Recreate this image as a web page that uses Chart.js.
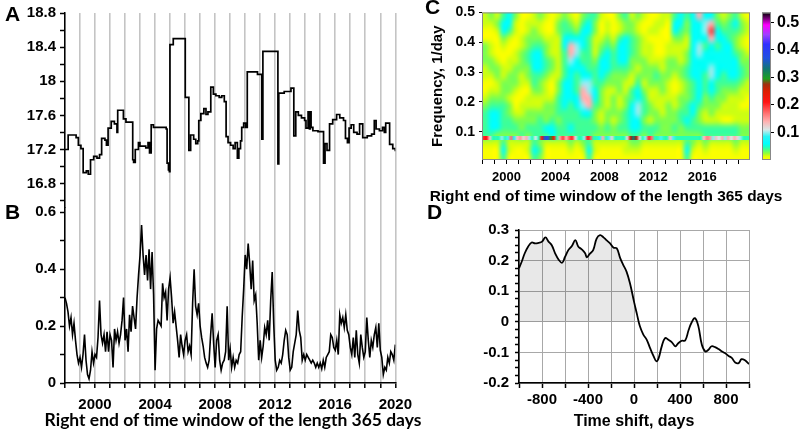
<!DOCTYPE html>
<html>
<head>
<meta charset="utf-8">
<script src="https://cdn.jsdelivr.net/npm/chart.js@4.4.1/dist/chart.umd.min.js"></script>
<style>
  body { margin: 0; background: #fff; width: 803px; height: 439px; position: relative; overflow: hidden; }
  canvas { position: absolute; }
  .panel { position: absolute; font: bold 21px "Liberation Sans", Arial, sans-serif; line-height: 21px; }
  .title { position: absolute; white-space: nowrap; font-weight: bold; line-height: 1; }
</style>
</head>
<body>
<canvas id="ab" width="420" height="439" style="left:0;top:0"></canvas>
<canvas id="spec" width="383" height="210" style="left:420px;top:0"></canvas>
<canvas id="cbar" width="51" height="175" style="left:752px;top:0"></canvas>
<canvas id="ccf" width="383" height="239" style="left:420px;top:200px"></canvas>
<div class="panel" style="left:5px;top:3px">A</div>
<div class="panel" style="left:5px;top:201px">B</div>
<div class="panel" style="left:425px;top:-4px">C</div>
<div class="panel" style="left:427px;top:201px">D</div>
<div class="title" id="abTitle" style="font-family:Lato">Right end of time window of the length 365 days</div>
<div class="title" id="cTitle" style="font-family:'Liberation Sans',Arial">Right end of time window of the length 365 days</div>
<script>
// panel A: step series, level starts at each year value
const aYears = [1998.00,1998.21,1998.74,1998.89,1999.06,1999.21,1999.42,1999.55,1999.70,1999.91,
  2000.13,2000.30,2000.44,2000.66,2000.76,2000.87,2001.08,2001.29,2001.46,2001.51,
  2001.89,2002.06,2002.51,2002.57,2002.68,2002.89,2002.99,2003.38,2003.53,2003.63,
  2003.74,2003.89,2004.74,2004.80,2004.89,2004.95,2004.99,2005.21,2006.01,2006.25,
  2006.37,2006.57,2006.71,2006.84,2006.91,2007.05,2007.25,2007.39,2007.52,2007.71,
  2007.88,2008.05,2008.27,2008.44,2008.61,2008.73,2008.86,2009.03,2009.20,2009.33,
  2009.48,2009.58,2009.69,2009.77,2009.90,2010.03,2010.14,2010.82,2011.11,2011.18,
  2012.18,2012.24,2012.60,2013.05,2013.24,2013.37,2013.54,2013.75,2013.96,2014.05,
  2014.19,2014.28,2014.34,2014.39,2014.51,2014.85,2015.22,2015.32,2015.45,2015.62,
  2015.83,2016.09,2016.30,2016.55,2016.68,2016.81,2016.92,2017.06,2017.23,2017.45,
  2017.62,2017.83,2018.13,2018.42,2018.60,2018.72,2018.94,2019.15,2019.27,2019.36,
  2019.62,2019.83,2020.00];
const aValues = [17.20,17.37,17.34,17.25,17.21,16.93,16.95,16.91,17.08,17.12,
  17.10,17.14,17.33,17.31,17.25,17.45,17.53,17.50,17.40,17.66,
  17.56,17.52,17.08,17.05,17.20,17.28,17.24,17.22,17.28,17.16,
  17.49,17.46,17.44,17.04,16.96,16.94,18.43,18.50,17.81,17.19,
  17.37,17.32,17.27,17.30,17.54,17.62,17.68,17.61,17.64,17.93,
  17.85,17.83,17.81,17.83,17.76,17.35,17.28,17.25,17.21,17.28,
  17.10,17.21,17.30,17.46,17.51,17.46,18.11,18.08,17.32,18.35,
  17.03,17.86,17.88,17.92,17.36,17.64,17.60,17.57,17.54,17.45,
  17.64,17.44,17.64,17.46,17.42,17.41,17.04,17.27,17.19,17.50,
  17.55,17.61,17.57,17.54,17.33,17.28,17.45,17.49,17.40,17.38,
  17.50,17.34,17.36,17.38,17.54,17.44,17.42,17.46,17.40,17.51,
  17.26,17.21,17.18];

// panel B: sampled every 0.1 year from 1998.0
const bStart = 1998, bStep = 0.1;
const bValues = [
  0.30,0.28,0.25,0.20,0.23,0.17,0.21,0.15,0.10,0.07,
  0.09,0.055,0.10,0.17,0.08,0.03,0.015,0.045,0.11,0.07,
  0.10,0.09,0.16,0.29,0.17,0.14,0.17,0.11,0.18,0.11,
  0.17,0.15,0.055,0.19,0.15,0.18,0.14,0.17,0.22,0.30,
  0.15,0.19,0.11,0.24,0.18,0.27,0.23,0.19,0.30,0.38,
  0.45,0.555,0.45,0.38,0.45,0.36,0.47,0.33,0.46,0.31,
  0.045,0.19,0.22,0.21,0.20,0.35,0.30,0.32,0.22,0.33,
  0.37,0.30,0.21,0.25,0.20,0.15,0.09,0.17,0.13,0.10,
  0.15,0.17,0.11,0.13,0.10,0.28,0.40,0.27,0.24,0.28,
  0.20,0.16,0.13,0.09,0.07,0.055,0.08,0.17,0.245,0.14,
  0.055,0.15,0.17,0.08,0.045,0.07,0.08,0.11,0.27,0.08,
  0.12,0.055,0.09,0.055,0.08,0.07,0.10,0.11,0.23,0.33,
  0.45,0.40,0.49,0.42,0.33,0.43,0.29,0.31,0.21,0.08,
  0.15,0.09,0.13,0.195,0.17,0.22,0.15,0.29,0.39,0.21,
  0.08,0.045,0.055,0.08,0.07,0.10,0.15,0.185,0.17,0.09,
  0.045,0.055,0.11,0.14,0.17,0.255,0.185,0.16,0.08,0.10,
  0.08,0.10,0.09,0.08,0.07,0.08,0.07,0.055,0.07,0.055,
  0.07,0.05,0.08,0.055,0.09,0.10,0.11,0.17,0.16,0.125,
  0.115,0.15,0.10,0.24,0.21,0.23,0.195,0.24,0.185,0.17,
  0.125,0.10,0.16,0.09,0.185,0.10,0.07,0.17,0.125,0.09,
  0.11,0.23,0.15,0.09,0.15,0.125,0.17,0.195,0.125,0.21,
  0.115,0.09,0.03,0.055,0.045,0.09,0.07,0.11,0.10,0.08,
  0.135];

const yearTicks = [1998,1999,2000,2001,2002,2003,2004,2005,2006,2007,2008,2009,2010,
  2011,2012,2013,2014,2015,2016,2017,2018,2019,2020];
const yearLabels = [2000,2004,2008,2012,2016,2020];
const aTicks = [16.6,16.8,17.0,17.2,17.4,17.6,17.8,18.0,18.2,18.4,18.6,18.8];
const aLabels = [16.8,17.2,17.6,18,18.4,18.8];
const bTicks = [0,0.1,0.2,0.3,0.4,0.5,0.6];
const bLabels = [0,0.2,0.4,0.6];

// panel C: spectral amplitude levels. One string per half-year column (from 1998),
// 20 rows each from 0.5 1/day (top) down to 0 in steps of 0.025
const specStart = 1998, specColStep = 0.5, specRowStep = 0.025;
const levelValue = [0.003,0.016,0.028,0.04,0.058,0.1,0.14,0.19,0.26,0.38];
const spectrumCols = [
  "11002 22110 01233 33100", "21001 12210 12344 43100", "12100 01221 12344 42100", "34421 00112 22333 32343",
  "44310 01122 21223 32110", "21100 11222 10012 32100", "00011 22211 00112 23100", "01122 33221 01122 32110",
  "11223 44433 21122 33343", "21123 44432 21123 33232", "10012 23321 11222 43100", "00011 12210 01223 44100",
  "12211 11112 23332 33100", "23344 33334 44433 33100", "12346 65444 44333 43210", "01245 54433 34433 33100",
  "23444 33445 66543 33210", "34433 33345 56643 33343", "32211 12333 44322 32110", "10012 34443 22211 22100",
  "01123 44432 11122 32100", "00012 33322 12221 22100", "21134 44322 21122 32100", "32244 44321 12233 32110",
  "12233 32211 33444 43210", "21122 22123 44554 43210", "10011 12221 23332 32100", "00101 11222 11221 33100",
  "01100 01232 11122 32100", "11000 01122 21112 22100", "10001 12221 11222 22100", "34421 12210 01122 32100",
  "44321 11221 12233 22100", "32211 22332 22334 32343", "44444 44443 33443 32210", "64445 54444 44322 32100",
  "45543 44433 32211 33210", "46764 44554 43221 33100", "23443 44443 32211 33100", "12344 44433 22110 33100",
  "23334 44443 21110 33100", "34322 34443 21111 33210", "12211 22332 11011 22100", "01100 12221 10011 22100"
];
// narrow line near 0.078 1/day, quarter-year resolution from 1998
const bandStep = 0.25, bandLow = 0.071, bandHigh = 0.085, bandFloor = 0.045;
const bandAmp = [
  0.20,0.21,0.13,0,   0,0,0.10,0,        0.09,0.17,0.08,0.13, 0.15,0.12,0.14,0.10,
  0,0.11,0,0.22,      0.36,0.38,0.30,0.22, 0,0.15,0.19,0.14,  0.18,0.20,0.12,0,
  0,0.10,0.21,0.18,   0,0,0.08,0.14,     0,0.09,0.12,0,       0,0,0,0.12,
  0.26,0.33,0.27,0.12, 0,0.10,0.20,0.17, 0,0,0.09,0,          0,0.13,0.09,0,
  0,0,0,0,            0,0,0,0,           0.13,0.16,0.15,0.10, 0.13,0.11,0.14,0.10,
  0.14,0.11,0.14,0.12, 0.10,0,0,0
];
const cbTicks = [0.1,0.2,0.3,0.4,0.5];
const specYearTicks = yearTicks.slice(0, 22);
const specYearLabels = [2000,2004,2008,2012,2016];
const freqTicks = [0.1,0.2,0.3,0.4,0.5];

// colour scale of the spectrum
const cmapStops = [
  [0.000,[255,255,0]],[0.012,[232,255,0]],[0.025,[140,255,60]],[0.038,[70,255,140]],
  [0.050,[20,255,210]],[0.060,[0,255,255]],[0.085,[40,245,245]],[0.110,[215,232,232]],[0.140,[255,176,176]],
  [0.170,[255,112,112]],[0.210,[255,20,20]],[0.250,[220,30,0]],[0.275,[160,48,16]],
  [0.295,[30,160,30]],[0.330,[16,120,112]],[0.370,[32,80,224]],[0.420,[48,48,255]],
  [0.455,[160,64,255]],[0.490,[255,0,255]],[0.535,[0,0,0]]
];
function cmap(v) {
  if (v <= cmapStops[0][0]) return cmapStops[0][1];
  for (let i = 1; i < cmapStops.length; i++) {
    if (v <= cmapStops[i][0]) {
      const [v0, c0] = cmapStops[i - 1], [v1, c1] = cmapStops[i];
      const t = (v - v0) / (v1 - v0);
      return c0.map((c, k) => Math.round(c + (c1[k] - c) * t));
    }
  }
  return cmapStops[cmapStops.length - 1][1];
}

// panel D: cross-correlation vs time shift
const dShift = [-1000,-975,-950,-920,-890,-860,-830,-800,-770,-745,-715,-685,-655,-625,-600,-570,-540,-510,
  -485,-455,-425,-410,-385,-355,-325,-295,-265,-240,-210,-180,-150,-120,-95,-65,-35,0,
  25,50,80,110,140,170,195,215,240,270,300,330,360,385,415,445,475,500,530,560,590,620,
  645,675,705,735,765,790,820,850,880,910,935,965,1000];
const dCorr = [0.175,0.198,0.224,0.246,0.259,0.256,0.258,0.262,0.276,0.263,0.250,0.223,0.203,0.193,0.212,0.235,0.248,0.267,
  0.246,0.237,0.224,0.211,0.222,0.234,0.272,0.283,0.276,0.267,0.257,0.243,0.240,0.208,0.187,0.164,0.126,0.066,
  0.026,-0.013,-0.041,-0.058,-0.086,-0.112,-0.129,-0.118,-0.082,-0.053,-0.059,-0.067,-0.080,-0.070,-0.062,-0.061,-0.027,-0.003,0.012,-0.015,-0.075,-0.097,
  -0.092,-0.080,-0.083,-0.089,-0.097,-0.102,-0.111,-0.118,-0.133,-0.135,-0.122,-0.126,-0.138];
const dTicks = [-1000,-800,-600,-400,-200,0,200,400,600,800,1000];
const dLabels = [-800,-400,0,400,800];
const dyTicks = [];
for (let k = 0; k <= 20; k++) dyTicks.push(Math.round((-0.2 + k * 0.025) * 1000) / 1000);
const dyLabels = [-0.2,-0.1,0,0.1,0.2,0.3];

Chart.defaults.font.family = '"Liberation Sans", Arial, sans-serif';
Chart.defaults.color = '#000';
Chart.defaults.animation = false;

const has = (list, v) => list.some(l => Math.abs(l - v) < 1e-9);
const setTicks = vals => scale => { scale.ticks = vals.map(v => ({value: v})); };
const bold = size => ({size: size, weight: 'bold'});
const noPlugins = {legend: {display: false}, tooltip: {enabled: false}};

// the long axis titles are wider than their plots, so they sit as page text
function placeTitle(id, width, cx, cy) {
  const el = document.getElementById(id);
  el.style.fontSize = '20px';
  const w = el.getBoundingClientRect().width;
  el.style.fontSize = (20 * width / w).toFixed(2) + 'px';
  const r = el.getBoundingClientRect();
  el.style.left = (cx - r.width / 2) + 'px';
  el.style.top = (cy - r.height / 2) + 'px';
}
placeTitle('abTitle', 377, 233, 420);
placeTitle('cTitle', 353, 606, 196);

// ---- A + B : two stacked y axes sharing the time axis ----
new Chart(document.getElementById('ab'), {
  type: 'line',
  data: {
    datasets: [{
      data: aYears.map((x, i) => ({x: x, y: aValues[i]})),
      yAxisID: 'yA', stepped: true,
      borderColor: '#000', borderWidth: 1.7, pointRadius: 0
    }, {
      data: bValues.map((y, i) => ({x: bStart + i * bStep, y: y})),
      yAxisID: 'yB',
      borderColor: '#000', borderWidth: 1.6, pointRadius: 0
    }]
  },
  options: {
    responsive: false,
    layout: {padding: {top: 10, right: 10, left: 0, bottom: 0}},
    plugins: noPlugins,
    scales: {
      x: {
        type: 'linear', min: 1998, max: 2020,
        afterBuildTicks: setTicks(yearTicks),
        afterFit: s => { s.height = 56; },
        grid: {color: '#c4c4c4', lineWidth: 1.6, tickColor: '#000', tickWidth: 1.5, tickLength: 5},
        border: {color: '#000', width: 1.5},
        ticks: {font: bold(15), padding: 8, maxRotation: 0, autoSkip: false,
          callback: v => has(yearLabels, v) ? String(v) : ''}
      },
      yB: {
        type: 'linear', position: 'left', stack: 'ab', stackWeight: 177, min: 0, max: 0.617,
        afterBuildTicks: setTicks(bTicks),
        afterFit: s => { s.width = 65; },
        grid: {drawOnChartArea: false, tickColor: '#000', tickWidth: 1.5, tickLength: 5},
        border: {color: '#000', width: 1.5},
        ticks: {font: bold(15), padding: 4, autoSkip: false, callback: v => has(bLabels, v) ? String(v) : ''}
      },
      yA: {
        type: 'linear', position: 'left', stack: 'ab', stackWeight: 196, min: 16.521, max: 18.8,
        afterBuildTicks: setTicks(aTicks),
        afterFit: s => { s.width = 65; },
        grid: {drawOnChartArea: false, tickColor: '#000', tickWidth: 1.5, tickLength: 5},
        border: {color: '#000', width: 1.5},
        ticks: {font: bold(15), padding: 4, autoSkip: false, callback: v => has(aLabels, v) ? String(v) : ''}
      }
    }
  }
});

// ---- C : spectrum heat map ----
function paintImage(cols, rows, valueAt) {
  const off = document.createElement('canvas');
  off.width = cols; off.height = rows;
  const octx = off.getContext('2d');
  const img = octx.createImageData(cols, rows);
  for (let r = 0; r < rows; r++) {
    for (let c = 0; c < cols; c++) {
      const rgb = cmap(valueAt(r, c));
      const p = (r * cols + c) * 4;
      img.data[p] = rgb[0]; img.data[p + 1] = rgb[1]; img.data[p + 2] = rgb[2]; img.data[p + 3] = 255;
    }
  }
  octx.putImageData(img, 0, 0);
  return off;
}
const specCols = spectrumCols.map(s => s.replace(/ /g, '').split('').map(d => levelValue[+d]));
const heatPlugin = {
  id: 'heat',
  beforeDatasetsDraw(chart) {
    const {ctx, chartArea: a, scales: {x, y}} = chart;
    const cols = specCols.length, rows = specCols[0].length;
    const bg = paintImage(cols, rows, (r, c) => specCols[c][r]);
    const x0 = x.getPixelForValue(specStart), x1 = x.getPixelForValue(specStart + cols * specColStep);
    const y0 = y.getPixelForValue(rows * specRowStep), y1 = y.getPixelForValue(0);
    const band = paintImage(bandAmp.length, 1, (r, c) => Math.max(bandAmp[c], bandFloor));
    const bx1 = x.getPixelForValue(specStart + bandAmp.length * bandStep);
    const by0 = y.getPixelForValue(bandHigh), by1 = y.getPixelForValue(bandLow);
    ctx.save();
    ctx.beginPath(); ctx.rect(a.left, a.top, a.width, a.height); ctx.clip();
    ctx.imageSmoothingEnabled = true; ctx.imageSmoothingQuality = 'high';
    ctx.drawImage(bg, x0, y0, x1 - x0, y1 - y0);
    ctx.drawImage(band, x0, by0, bx1 - x0, by1 - by0);
    ctx.restore();
    ctx.save();
    ctx.strokeStyle = '#8a8a8a'; ctx.lineWidth = 1;
    ctx.strokeRect(a.left + 0.5, a.top + 0.5, a.width - 1, a.height - 1);
    ctx.restore();
  }
};
new Chart(document.getElementById('spec'), {
  type: 'scatter',
  data: {datasets: []},
  options: {
    responsive: false,
    layout: {padding: {top: 7, right: 53, left: 0, bottom: 0}},
    plugins: noPlugins,
    scales: {
      x: {
        type: 'linear', min: 1998, max: 2019.9,
        afterBuildTicks: setTicks(specYearTicks),
        afterFit: s => { s.height = 50; },
        grid: {drawOnChartArea: false, tickColor: '#000', tickLength: 4},
        border: {display: false},
        ticks: {font: bold(13), padding: 6, maxRotation: 0, autoSkip: false,
          callback: v => has(specYearLabels, v) ? String(v) : ''}
      },
      y: {
        type: 'linear', min: 0.005, max: 0.5,
        afterBuildTicks: setTicks(freqTicks),
        afterFit: s => { s.width = 62; },
        grid: {drawOnChartArea: false, tickColor: '#000', tickLength: 3},
        border: {display: false},
        ticks: {font: bold(14), padding: 4, autoSkip: false, callback: v => String(v)},
        title: {display: true, text: 'Frequency, 1/day', font: bold(15), padding: {top: 9, bottom: 0}}
      }
    }
  },
  plugins: [heatPlugin]
});

// ---- colour bar ----
const barPlugin = {
  id: 'bar',
  beforeDatasetsDraw(chart) {
    const {ctx, chartArea: a, scales: {y}} = chart;
    const g = ctx.createLinearGradient(0, a.bottom, 0, a.top);
    cmapStops.forEach(([v, c]) => {
      const f = (a.bottom - y.getPixelForValue(v)) / (a.bottom - a.top);
      g.addColorStop(Math.min(1, Math.max(0, f)), 'rgb(' + c.join(',') + ')');
    });
    ctx.save();
    ctx.fillStyle = g;
    ctx.fillRect(a.left, a.top, a.width, a.height);
    ctx.strokeStyle = '#888'; ctx.lineWidth = 1;
    ctx.strokeRect(a.left + 0.5, a.top + 0.5, a.width - 1, a.height - 1);
    ctx.restore();
  }
};
new Chart(document.getElementById('cbar'), {
  type: 'scatter',
  data: {datasets: []},
  options: {
    responsive: false,
    layout: {padding: {top: 10, right: 0, left: 10, bottom: 15}},
    plugins: noPlugins,
    scales: {
      x: {type: 'linear', display: false},
      y: {
        type: 'linear', position: 'right', min: 0, max: 0.535,
        afterBuildTicks: setTicks(cbTicks),
        afterFit: s => { s.width = 32; },
        grid: {drawOnChartArea: false, tickColor: '#000', tickLength: 3},
        border: {display: false},
        ticks: {font: bold(16), padding: 3, autoSkip: false, callback: v => String(v)}
      }
    }
  },
  plugins: [barPlugin]
});

// ---- D : correlation vs time shift ----
const dPoints = dShift.map((x, i) => ({x: x, y: dCorr[i]}));
new Chart(document.getElementById('ccf'), {
  type: 'line',
  data: {
    datasets: [{
      data: dPoints.filter(p => p.x <= 0),
      fill: 'origin', backgroundColor: 'rgba(0,0,0,0.09)',
      borderWidth: 0, pointRadius: 0, tension: 0.4
    }, {
      data: dPoints,
      fill: false, borderColor: '#000', borderWidth: 1.8, pointRadius: 0, tension: 0.4
    }]
  },
  options: {
    responsive: false,
    layout: {padding: {top: 30, right: 54, left: 0, bottom: 0}},
    plugins: noPlugins,
    scales: {
      x: {
        type: 'linear', min: -1000, max: 1000,
        afterBuildTicks: setTicks(dTicks),
        afterFit: s => { s.height = 56; },
        grid: {color: '#a8a8a8', lineWidth: 1, tickColor: '#000', tickWidth: 1.5, tickLength: 5},
        border: {color: '#000', width: 1.5},
        ticks: {font: bold(15), padding: 3, maxRotation: 0, autoSkip: false,
          callback: v => has(dLabels, v) ? String(v) : ''},
        title: {display: true, text: 'Time shift, days', font: bold(16), padding: {top: 0, bottom: 8}}
      },
      y: {
        type: 'linear', min: -0.2, max: 0.3,
        afterBuildTicks: setTicks(dyTicks),
        afterFit: s => { s.width = 99; },
        grid: {color: c => has(dyLabels, c.tick.value) ? '#a8a8a8' : 'rgba(0,0,0,0)',
          tickColor: '#000', tickWidth: 1.5, tickLength: 4},
        border: {color: '#000', width: 1.5},
        ticks: {font: bold(15), padding: 6, autoSkip: false,
          callback: v => has(dyLabels, v) ? String(v) : ''}
      }
    }
  }
});
</script>
</body>
</html>
